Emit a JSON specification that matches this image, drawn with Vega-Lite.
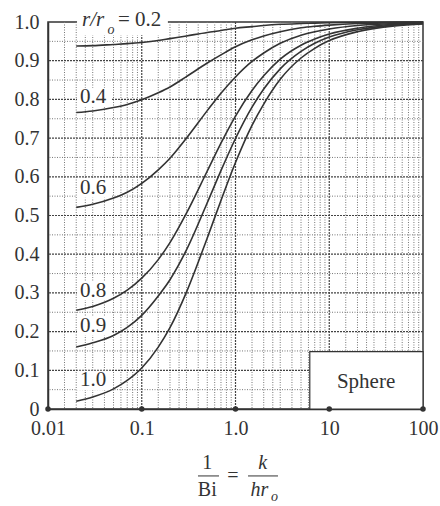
{
  "$schema": "https://vega.github.io/schema/vega-lite/v6.json",
  "width": 375,
  "height": 387,
  "autosize": "none",
  "padding": {"left": 48, "top": 22, "right": 17, "bottom": 97},
  "background": "white",
  "config": {
    "view": {"stroke": "#333", "strokeWidth": 1.5},
    "font": "Liberation Serif",
    "axis": {"grid": false, "ticks": false, "domainColor": "#333", "domainWidth": 1.5, "labelFont": "Liberation Serif", "labelFontSize": 20, "labelColor": "#333", "title": null, "zindex": 1, "labelFlush": false, "labelOverlap": false, "labelSeparation": 0}
  },
  "datasets": {
    "vminor": [{"v":0.015},{"v":0.02},{"v":0.025},{"v":0.03},{"v":0.04},{"v":0.05},{"v":0.06},{"v":0.07},{"v":0.08},{"v":0.09},
               {"v":0.15},{"v":0.2},{"v":0.25},{"v":0.3},{"v":0.4},{"v":0.5},{"v":0.6},{"v":0.7},{"v":0.8},{"v":0.9},
               {"v":1.5},{"v":2},{"v":2.5},{"v":3},{"v":4},{"v":5},{"v":6},{"v":7},{"v":8},{"v":9},
               {"v":15},{"v":20},{"v":25},{"v":30},{"v":40},{"v":50},{"v":60},{"v":70},{"v":80},{"v":90}],
    "vmajor": [{"v":0.1},{"v":1},{"v":10}],
    "hminor": [{"h":0.05},{"h":0.15},{"h":0.25},{"h":0.35},{"h":0.45},{"h":0.55},{"h":0.65},{"h":0.75},{"h":0.85},{"h":0.95}],
    "hmajor": [{"h":0.1},{"h":0.2},{"h":0.3},{"h":0.4},{"h":0.5},{"h":0.6},{"h":0.7},{"h":0.8},{"h":0.9}],
    "decades": [{"v":0.01},{"v":0.1},{"v":1},{"v":10},{"v":100}],
    "labelboxes": [
      {"x1":0.0204,"x2":0.047,"y1":0.780,"y2":0.830},
      {"x1":0.0204,"x2":0.047,"y1":0.546,"y2":0.596},
      {"x1":0.0204,"x2":0.047,"y1":0.281,"y2":0.331},
      {"x1":0.0204,"x2":0.047,"y1":0.190,"y2":0.240},
      {"x1":0.0204,"x2":0.047,"y1":0.049,"y2":0.099},
      {"x1":0.0204,"x2":0.19,"y1":0.966,"y2":1.04}
    ],
    "labels": [
      {"text":"0.4","x":0.0219,"y":0.805},
      {"text":"0.6","x":0.0219,"y":0.571},
      {"text":"0.8","x":0.0219,"y":0.306},
      {"text":"0.9","x":0.0219,"y":0.215},
      {"text":"1.0","x":0.0219,"y":0.074}
    ],
    "curves": [
      {"x":0.02,"r":"0.2","t":0.938},{"x":0.03,"r":"0.2","t":0.939},{"x":0.05,"r":"0.2","t":0.942},{"x":0.07,"r":"0.2","t":0.944},{"x":0.1,"r":"0.2","t":0.947},{"x":0.15,"r":"0.2","t":0.952},{"x":0.2,"r":"0.2","t":0.957},{"x":0.3,"r":"0.2","t":0.964},{"x":0.5,"r":"0.2","t":0.973},{"x":0.7,"r":"0.2","t":0.978},{"x":1,"r":"0.2","t":0.984},{"x":1.5,"r":"0.2","t":0.988},{"x":2,"r":"0.2","t":0.991},{"x":3,"r":"0.2","t":0.994},{"x":5,"r":"0.2","t":0.996},{"x":7,"r":"0.2","t":0.997},{"x":10,"r":"0.2","t":0.998},{"x":20,"r":"0.2","t":0.999},{"x":50,"r":"0.2","t":1.0},{"x":100,"r":"0.2","t":1.0},
      {"x":0.02,"r":"0.4","t":0.766},{"x":0.03,"r":"0.4","t":0.770},{"x":0.05,"r":"0.4","t":0.779},{"x":0.07,"r":"0.4","t":0.787},{"x":0.1,"r":"0.4","t":0.799},{"x":0.15,"r":"0.4","t":0.817},{"x":0.2,"r":"0.4","t":0.832},{"x":0.3,"r":"0.4","t":0.859},{"x":0.5,"r":"0.4","t":0.894},{"x":0.7,"r":"0.4","t":0.915},{"x":1,"r":"0.4","t":0.936},{"x":1.5,"r":"0.4","t":0.954},{"x":2,"r":"0.4","t":0.964},{"x":3,"r":"0.4","t":0.975},{"x":5,"r":"0.4","t":0.985},{"x":7,"r":"0.4","t":0.989},{"x":10,"r":"0.4","t":0.992},{"x":20,"r":"0.4","t":0.996},{"x":50,"r":"0.4","t":0.998},{"x":100,"r":"0.4","t":0.999},
      {"x":0.02,"r":"0.6","t":0.521},{"x":0.03,"r":"0.6","t":0.529},{"x":0.05,"r":"0.6","t":0.545},{"x":0.07,"r":"0.6","t":0.560},{"x":0.1,"r":"0.6","t":0.583},{"x":0.15,"r":"0.6","t":0.618},{"x":0.2,"r":"0.6","t":0.648},{"x":0.3,"r":"0.6","t":0.700},{"x":0.5,"r":"0.6","t":0.771},{"x":0.7,"r":"0.6","t":0.816},{"x":1,"r":"0.6","t":0.858},{"x":1.5,"r":"0.6","t":0.898},{"x":2,"r":"0.6","t":0.920},{"x":3,"r":"0.6","t":0.945},{"x":5,"r":"0.6","t":0.966},{"x":7,"r":"0.6","t":0.975},{"x":10,"r":"0.6","t":0.982},{"x":20,"r":"0.6","t":0.991},{"x":50,"r":"0.6","t":0.996},{"x":100,"r":"0.6","t":0.998},
      {"x":0.02,"r":"0.8","t":0.255},{"x":0.03,"r":"0.8","t":0.265},{"x":0.05,"r":"0.8","t":0.286},{"x":0.07,"r":"0.8","t":0.307},{"x":0.1,"r":"0.8","t":0.338},{"x":0.15,"r":"0.8","t":0.386},{"x":0.2,"r":"0.8","t":0.430},{"x":0.3,"r":"0.8","t":0.506},{"x":0.5,"r":"0.8","t":0.615},{"x":0.7,"r":"0.8","t":0.687},{"x":1,"r":"0.8","t":0.757},{"x":1.5,"r":"0.8","t":0.823},{"x":2,"r":"0.8","t":0.861},{"x":3,"r":"0.8","t":0.904},{"x":5,"r":"0.8","t":0.940},{"x":7,"r":"0.8","t":0.956},{"x":10,"r":"0.8","t":0.969},{"x":20,"r":"0.8","t":0.984},{"x":50,"r":"0.8","t":0.994},{"x":100,"r":"0.8","t":0.997},
      {"x":0.02,"r":"0.9","t":0.160},{"x":0.03,"r":"0.9","t":0.171},{"x":0.05,"r":"0.9","t":0.190},{"x":0.07,"r":"0.9","t":0.211},{"x":0.1,"r":"0.9","t":0.242},{"x":0.15,"r":"0.9","t":0.292},{"x":0.2,"r":"0.9","t":0.334},{"x":0.3,"r":"0.9","t":0.411},{"x":0.5,"r":"0.9","t":0.533},{"x":0.7,"r":"0.9","t":0.616},{"x":1,"r":"0.9","t":0.699},{"x":1.5,"r":"0.9","t":0.780},{"x":2,"r":"0.9","t":0.827},{"x":3,"r":"0.9","t":0.879},{"x":5,"r":"0.9","t":0.924},{"x":7,"r":"0.9","t":0.945},{"x":10,"r":"0.9","t":0.961},{"x":20,"r":"0.9","t":0.980},{"x":50,"r":"0.9","t":0.992},{"x":100,"r":"0.9","t":0.996},
      {"x":0.02,"r":"1.0","t":0.020},{"x":0.03,"r":"1.0","t":0.031},{"x":0.05,"r":"1.0","t":0.052},{"x":0.07,"r":"1.0","t":0.074},{"x":0.1,"r":"1.0","t":0.106},{"x":0.15,"r":"1.0","t":0.160},{"x":0.2,"r":"1.0","t":0.210},{"x":0.3,"r":"1.0","t":0.302},{"x":0.5,"r":"1.0","t":0.442},{"x":0.7,"r":"1.0","t":0.539},{"x":1,"r":"1.0","t":0.637},{"x":1.5,"r":"1.0","t":0.733},{"x":2,"r":"1.0","t":0.788},{"x":3,"r":"1.0","t":0.852},{"x":5,"r":"1.0","t":0.907},{"x":7,"r":"1.0","t":0.932},{"x":10,"r":"1.0","t":0.952},{"x":20,"r":"1.0","t":0.975},{"x":50,"r":"1.0","t":0.990},{"x":100,"r":"1.0","t":0.995}
    ]
  },
  "layer": [
    {
      "data": {"name": "curves"},
      "mark": {"type": "line", "color": "#333", "strokeWidth": 1.6, "interpolate": "monotone", "opacity": 0},
      "encoding": {
        "x": {"field": "x", "type": "quantitative", "scale": {"type": "log", "domain": [0.01, 100], "nice": false},
              "axis": {"values": [0.01, 0.1, 1, 10, 100], "labelPadding": 9, "labelOverlap": false,
                       "labelExpr": "datum.value < 0.05 ? '0.01' : datum.value < 0.5 ? '0.1' : datum.value < 5 ? '1.0' : datum.value < 50 ? '10' : '100'"}},
        "y": {"field": "t", "type": "quantitative", "scale": {"domain": [0, 1], "nice": false, "zero": false},
              "axis": {"values": [0, 0.1, 0.2, 0.3, 0.4, 0.5, 0.6, 0.7, 0.8, 0.9, 1.0], "labelPadding": 9, "labelOverlap": false, "labelSeparation": 0, "tickCount": 11,
                       "labelExpr": "datum.value == 0 ? '0' : format(datum.value, '.1f')"}},
        "detail": {"field": "r", "type": "nominal"}
      }
    },
    {
      "data": {"name": "vminor"},
      "mark": {"type": "rule", "color": "#777", "strokeDash": [1, 1.5], "strokeWidth": 1},
      "encoding": {"x": {"field": "v", "type": "quantitative"}}
    },
    {
      "data": {"name": "vmajor"},
      "mark": {"type": "rule", "color": "#444", "strokeDash": [2, 1], "strokeWidth": 1.2},
      "encoding": {"x": {"field": "v", "type": "quantitative"}}
    },
    {
      "data": {"name": "hminor"},
      "mark": {"type": "rule", "color": "#777", "strokeDash": [1, 1.5], "strokeWidth": 1},
      "encoding": {"y": {"field": "h", "type": "quantitative"}}
    },
    {
      "data": {"name": "hmajor"},
      "mark": {"type": "rule", "color": "#444", "strokeDash": [2, 1], "strokeWidth": 1.2},
      "encoding": {"y": {"field": "h", "type": "quantitative"}}
    },
    {
      "data": {"name": "labelboxes"},
      "mark": {"type": "rect", "fill": "white", "stroke": null},
      "encoding": {
        "x": {"field": "x1", "type": "quantitative"},
        "x2": {"field": "x2"},
        "y": {"field": "y1", "type": "quantitative"},
        "y2": {"field": "y2"}
      }
    },
    {
      "data": {"values": [{}]},
      "mark": {"type": "rect", "fill": "white", "stroke": "#333", "strokeWidth": 1.2},
      "encoding": {
        "x": {"datum": 6.2, "type": "quantitative"},
        "x2": {"datum": 100},
        "y": {"datum": 0, "type": "quantitative"},
        "y2": {"datum": 0.148}
      }
    },
    {
      "data": {"name": "curves"},
      "mark": {"type": "line", "color": "#333", "strokeWidth": 1.6, "interpolate": "monotone"},
      "encoding": {
        "x": {"field": "x", "type": "quantitative"},
        "y": {"field": "t", "type": "quantitative"},
        "detail": {"field": "r", "type": "nominal"}
      }
    },
    {
      "data": {"name": "labels"},
      "mark": {"type": "text", "align": "left", "baseline": "middle", "font": "Liberation Serif", "fontSize": 21, "color": "#333"},
      "encoding": {
        "x": {"field": "x", "type": "quantitative"},
        "y": {"field": "y", "type": "quantitative"},
        "text": {"field": "text"}
      }
    },
    {
      "data": {"values": [{}]},
      "mark": {"type": "text", "align": "left", "baseline": "middle", "font": "Liberation Serif", "fontStyle": "italic", "fontSize": 21, "color": "#333"},
      "encoding": {
        "x": {"datum": 0.0231, "type": "quantitative"},
        "y": {"datum": 1.005, "type": "quantitative"},
        "text": {"value": "r/r"}
      }
    },
    {
      "data": {"values": [{}]},
      "mark": {"type": "text", "align": "left", "baseline": "middle", "font": "Liberation Serif", "fontStyle": "italic", "fontSize": 14, "color": "#333"},
      "encoding": {
        "x": {"datum": 0.043, "type": "quantitative"},
        "y": {"datum": 0.979, "type": "quantitative"},
        "text": {"value": "o"}
      }
    },
    {
      "data": {"values": [{}]},
      "mark": {"type": "text", "align": "left", "baseline": "middle", "font": "Liberation Serif", "fontSize": 21, "color": "#333"},
      "encoding": {
        "x": {"datum": 0.0558, "type": "quantitative"},
        "y": {"datum": 1.005, "type": "quantitative"},
        "text": {"value": "= 0.2"}
      }
    },
    {
      "data": {"values": [{}]},
      "mark": {"type": "text", "align": "center", "baseline": "middle", "font": "Liberation Serif", "fontSize": 21, "color": "#333"},
      "encoding": {
        "x": {"datum": 24.7, "type": "quantitative"},
        "y": {"datum": 0.071, "type": "quantitative"},
        "text": {"value": "Sphere"}
      }
    },
    {
      "data": {"name": "decades"},
      "mark": {"type": "point", "filled": true, "color": "#333", "size": 30, "opacity": 1},
      "encoding": {
        "x": {"field": "v", "type": "quantitative"},
        "y": {"datum": 0, "type": "quantitative"}
      }
    },
    {
      "data": {"values": [{}]},
      "mark": {"type": "text", "align": "center", "baseline": "middle", "font": "Liberation Serif", "fontSize": 20, "color": "#333"},
      "encoding": {
        "x": {"datum": 0.5, "type": "quantitative"},
        "y": {"datum": -0.1395, "type": "quantitative"},
        "text": {"value": "1"}
      }
    },
    {
      "data": {"values": [{}]},
      "mark": {"type": "text", "align": "center", "baseline": "middle", "font": "Liberation Serif", "fontSize": 20, "color": "#333"},
      "encoding": {
        "x": {"datum": 0.5, "type": "quantitative"},
        "y": {"datum": -0.209, "type": "quantitative"},
        "text": {"value": "Bi"}
      }
    },
    {
      "data": {"values": [{}]},
      "mark": {"type": "rule", "color": "#333", "strokeWidth": 1},
      "encoding": {
        "x": {"datum": 0.398, "type": "quantitative"},
        "x2": {"datum": 0.667},
        "y": {"datum": -0.173, "type": "quantitative"}
      }
    },
    {
      "data": {"values": [{}]},
      "mark": {"type": "text", "align": "center", "baseline": "middle", "font": "Liberation Serif", "fontSize": 20, "color": "#333"},
      "encoding": {
        "x": {"datum": 0.94, "type": "quantitative"},
        "y": {"datum": -0.173, "type": "quantitative"},
        "text": {"value": "="}
      }
    },
    {
      "data": {"values": [{}]},
      "mark": {"type": "text", "align": "center", "baseline": "middle", "font": "Liberation Serif", "fontStyle": "italic", "fontSize": 20, "color": "#333"},
      "encoding": {
        "x": {"datum": 1.95, "type": "quantitative"},
        "y": {"datum": -0.1395, "type": "quantitative"},
        "text": {"value": "k"}
      }
    },
    {
      "data": {"values": [{}]},
      "mark": {"type": "rule", "color": "#333", "strokeWidth": 1},
      "encoding": {
        "x": {"datum": 1.36, "type": "quantitative"},
        "x2": {"datum": 2.84},
        "y": {"datum": -0.173, "type": "quantitative"}
      }
    },
    {
      "data": {"values": [{}]},
      "mark": {"type": "text", "align": "center", "baseline": "middle", "font": "Liberation Serif", "fontStyle": "italic", "fontSize": 20, "color": "#333"},
      "encoding": {
        "x": {"datum": 1.8, "type": "quantitative"},
        "y": {"datum": -0.209, "type": "quantitative"},
        "text": {"value": "hr"}
      }
    },
    {
      "data": {"values": [{}]},
      "mark": {"type": "text", "align": "center", "baseline": "middle", "font": "Liberation Serif", "fontStyle": "italic", "fontSize": 14, "color": "#333"},
      "encoding": {
        "x": {"datum": 2.6, "type": "quantitative"},
        "y": {"datum": -0.228, "type": "quantitative"},
        "text": {"value": "o"}
      }
    }
  ]
}
